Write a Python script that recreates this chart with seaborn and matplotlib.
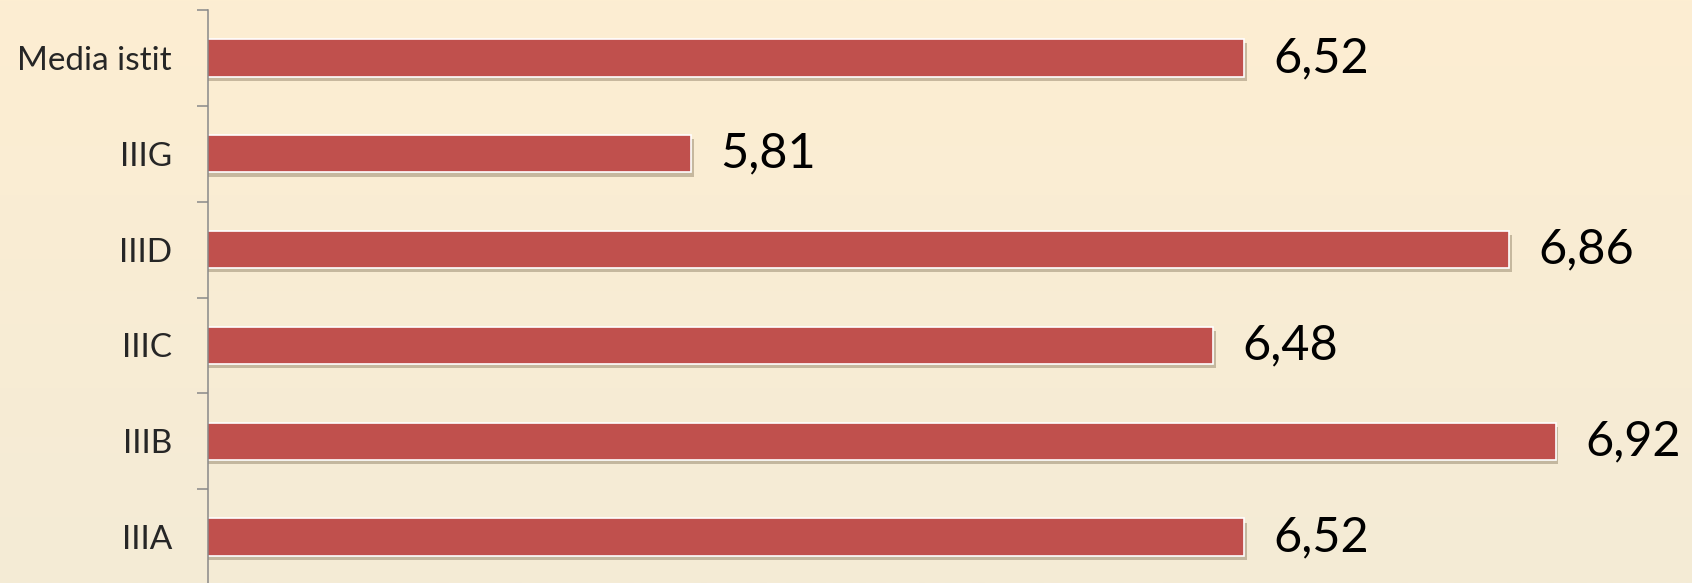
import matplotlib
matplotlib.use("Agg")
import matplotlib.pyplot as plt
import matplotlib.patheffects as pe
from matplotlib.colors import LinearSegmentedColormap
import seaborn as sns
import numpy as np
import pandas as pd

# data, top to bottom as drawn
categories = ["Media istit", "IIIG", "IIID", "IIIC", "IIIB", "IIIA"]
values = [6.52, 5.81, 6.86, 6.48, 6.92, 6.52]
value_labels = ["6,52", "5,81", "6,86", "6,48", "6,92", "6,52"]

df = pd.DataFrame({"classe": categories, "media": values})

sns.set_style("white")
plt.rcParams['font.family'] = ['Lato', 'DejaVu Sans']

fig = plt.figure(figsize=(16.92, 5.83), dpi=100)

# background gradient
bg = fig.add_axes([0, 0, 1, 1], zorder=0)
grad = LinearSegmentedColormap.from_list("bg", ["#fdeed2", "#f4ebd6"])
bg.imshow(np.linspace(0, 1, 256).reshape(-1, 1), aspect="auto", cmap=grad,
          extent=[0, 1, 0, 1], origin="upper")
bg.set_axis_off()

ax = fig.add_axes([208/1692, -2/583, 1 - 208/1692, 575/583], zorder=1)
ax.patch.set_alpha(0)

sns.barplot(data=df, x="media", y="classe", order=categories, color="#c0504d",
            saturation=1, width=0.39, edgecolor="white", linewidth=1.2, ax=ax)

for bar in ax.patches:
    bar.set_path_effects([pe.SimplePatchShadow(offset=(2, -3), shadow_rgbFace="#7a6a50", alpha=0.4),
                          pe.Normal()])

for i, (v, lab) in enumerate(zip(values, value_labels)):
    ax.text(v + 0.038, i, lab, va="center", ha="left", fontsize=35, color="black")

ax.set_xlim(5.19, 7.095)
ax.set_ylim(len(categories) - 0.5, -0.5)
ax.set_xlabel("")
ax.set_ylabel("")
ax.set_xticks([])

ax.set_yticks(range(len(categories)))
ax.set_yticklabels(categories, fontsize=24)
ax.set_yticks(np.arange(-0.5, len(categories), 1), minor=True)
ax.tick_params(axis="y", which="major", length=0, pad=26)
ax.tick_params(axis="y", which="minor", length=8, width=1.1, color="#898989", left=True)

for s in ["top", "right", "bottom"]:
    ax.spines[s].set_visible(False)
ax.spines["left"].set_color("#898989")
ax.spines["left"].set_linewidth(1.1)

fig.savefig("out.png", dpi=100)
